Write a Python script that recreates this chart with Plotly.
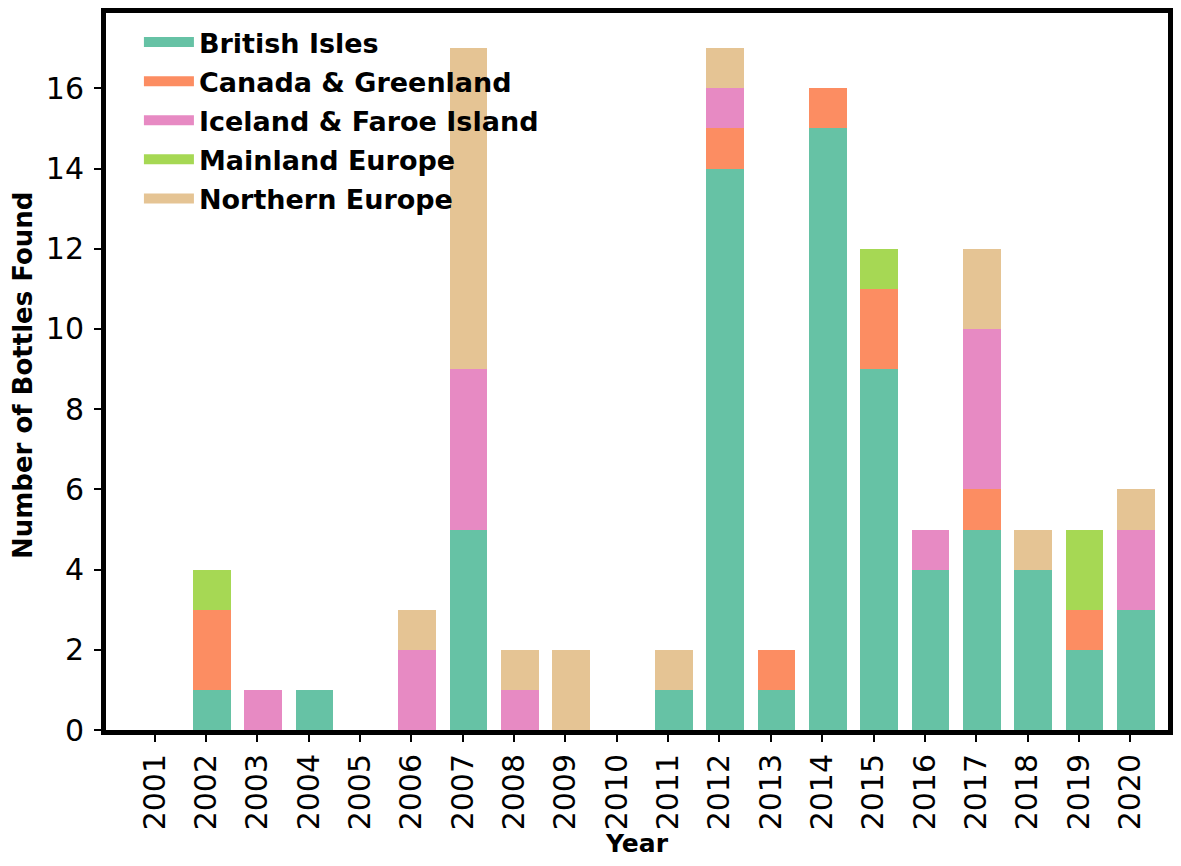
import plotly.graph_objects as go

# Data
years = [str(y) for y in range(2001, 2021)]
british_isles = [0, 1, 0, 1, 0, 0, 5, 0, 0, 0, 1, 14, 1, 15, 9, 4, 5, 4, 2, 3]
canada_greenland = [0, 2, 0, 0, 0, 0, 0, 0, 0, 0, 0, 1, 1, 1, 2, 0, 1, 0, 1, 0]
iceland_faroe = [0, 0, 1, 0, 0, 2, 4, 1, 0, 0, 0, 1, 0, 0, 0, 1, 4, 0, 0, 2]
mainland_europe = [0, 1, 0, 0, 0, 0, 0, 0, 0, 0, 0, 0, 0, 0, 1, 0, 0, 0, 2, 0]
northern_europe = [0, 0, 0, 0, 0, 1, 8, 1, 2, 0, 1, 1, 0, 0, 0, 0, 2, 1, 0, 1]

series = [
    ("British Isles", british_isles, "#66c2a5"),
    ("Canada & Greenland", canada_greenland, "#fc8d62"),
    ("Iceland & Faroe Island", iceland_faroe, "#e78ac3"),
    ("Mainland Europe", mainland_europe, "#a6d854"),
    ("Northern Europe", northern_europe, "#e5c494"),
]

# bars sit slightly right of their tick in the original
bar_w = 0.735
fig = go.Figure()
for name, vals, color in series:
    fig.add_trace(go.Bar(
        x=years, y=vals, name=name, legendgroup=name, showlegend=False,
        marker=dict(color=color, line=dict(width=0)),
        width=bar_w, offset=-bar_w / 2 + 0.11,
    ))
    # legend-only entry so the swatch is a wide patch like matplotlib's
    fig.add_trace(go.Scatter(
        x=[None], y=[None], mode="lines", name=name, legendgroup=name,
        line=dict(color=color, width=17),
    ))

# page body adds an 8px offset, so the figure is a bit smaller than the window
fig.update_layout(
    barmode="stack",
    width=1165, height=850,
    margin=dict(l=98, r=1, t=0, b=128),
    plot_bgcolor="white",
    paper_bgcolor="white",
    font=dict(family="DejaVu Sans", size=30, color="black"),
    legend=dict(
        x=0.031, y=0.993, xanchor="left", yanchor="top",
        bgcolor="rgba(0,0,0,0)",
        font=dict(size=27, weight="bold"),
        tracegroupgap=1, itemwidth=50,
        traceorder="grouped",
    ),
    annotations=[
        dict(
            text="Number of Bottles Found", textangle=-90,
            xref="paper", yref="paper", x=0, y=0.495, xshift=-83,
            xanchor="center", yanchor="middle", showarrow=False,
            font=dict(size=26, weight="bold"),
        ),
        dict(
            text="Year",
            xref="paper", yref="paper", x=0.5, y=0, yshift=-113,
            xanchor="center", yanchor="middle", showarrow=False,
            font=dict(size=25, weight="bold"),
        ),
    ],
)

fig.update_xaxes(
    type="category",
    range=[-0.951, 19.737],
    tickangle=-90,
    showline=True, linecolor="black", linewidth=5, mirror=True,
    ticks="outside", ticklen=7, tickwidth=2, tickcolor="black",
    showgrid=False,
)
fig.update_yaxes(
    range=[0, 17.88],
    dtick=2,
    showline=True, linecolor="black", linewidth=5, mirror=True,
    ticks="outside", ticklen=7, tickwidth=2, tickcolor="black",
    ticklabelstandoff=4,
    showgrid=False, zeroline=False,
)

fig.write_html("out.html")
